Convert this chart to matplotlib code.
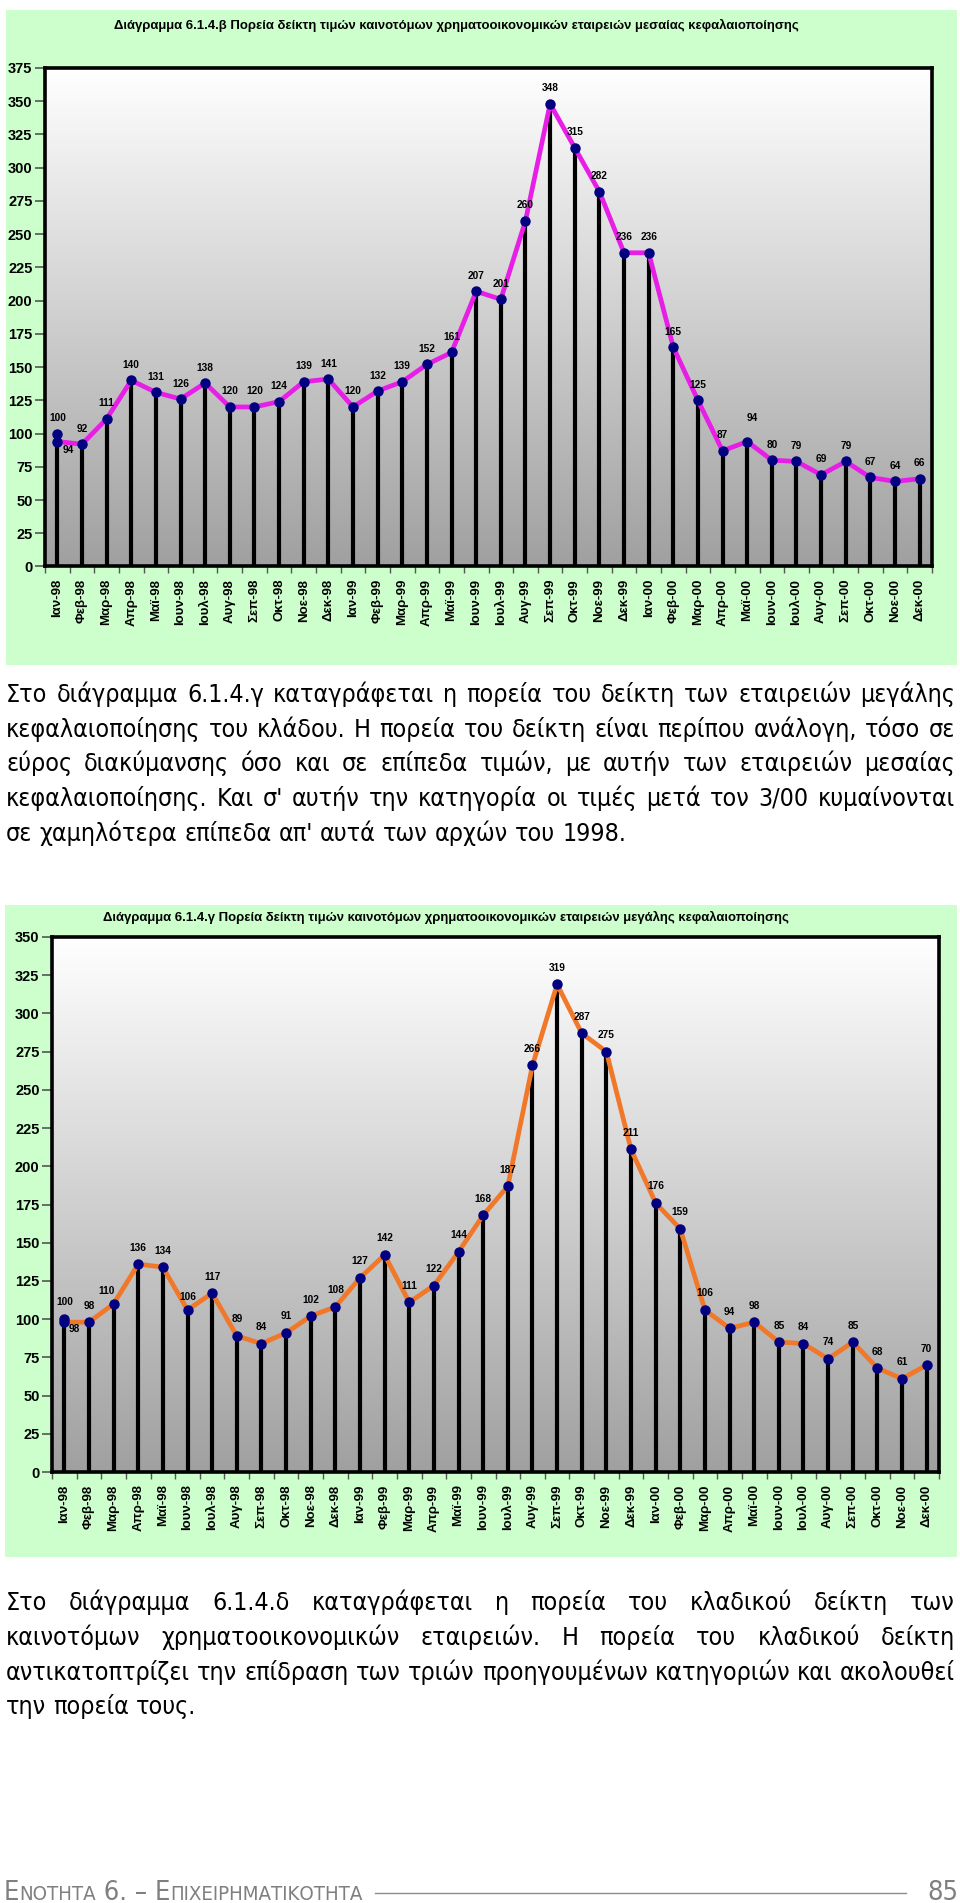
import numpy as np
import matplotlib
matplotlib.use('Agg')
import matplotlib.pyplot as plt
from matplotlib import font_manager as fm
from matplotlib.patches import Rectangle
from matplotlib.lines import Line2D
from matplotlib.colors import LinearSegmentedColormap

# ---------------- data ----------------
month_names = ['Ιαν', 'Φεβ', 'Μαρ', 'Απρ', 'Μαϊ', 'Ιουν', 'Ιουλ', 'Αυγ', 'Σεπ', 'Οκτ', 'Νοε', 'Δεκ']
years = ['98', '99', '00']
month_labels = [f'{m}-{y}' for y in years for m in month_names]

medium_cap = [94, 92, 111, 140, 131, 126, 138, 120, 120, 124, 139, 141,
              120, 132, 139, 152, 161, 207, 201, 260, 348, 315, 282, 236,
              236, 165, 125, 87, 94, 80, 79, 69, 79, 67, 64, 66]
medium_base = 100

large_cap = [98, 98, 110, 136, 134, 106, 117, 89, 84, 91, 102, 108,
             127, 142, 111, 122, 144, 168, 187, 266, 319, 287, 275, 211,
             176, 159, 106, 94, 98, 85, 84, 74, 85, 68, 61, 70]
large_base = 100

title1 = 'Διάγραμμα 6.1.4.β Πορεία δείκτη τιμών καινοτόμων χρηματοοικονομικών εταιρειών μεσαίας κεφαλαιοποίησης'
title2 = 'Διάγραμμα 6.1.4.γ Πορεία δείκτη τιμών καινοτόμων χρηματοοικονομικών εταιρειών μεγάλης κεφαλαιοποίησης'

para1 = ['Στο διάγραμμα 6.1.4.γ καταγράφεται η πορεία του δείκτη των εταιρειών μεγάλης',
         'κεφαλαιοποίησης του κλάδου. Η πορεία του δείκτη είναι περίπου ανάλογη, τόσο σε',
         'εύρος διακύμανσης όσο και σε επίπεδα τιμών, με αυτήν των εταιρειών μεσαίας',
         "κεφαλαιοποίησης. Και σ' αυτήν την κατηγορία οι τιμές μετά τον 3/00 κυμαίνονται",
         "σε χαμηλότερα επίπεδα απ' αυτά των αρχών του 1998."]
para2 = ['Στο διάγραμμα 6.1.4.δ καταγράφεται η πορεία του κλαδικού δείκτη των',
         'καινοτόμων χρηματοοικονομικών εταιρειών. Η πορεία του κλαδικού δείκτη',
         'αντικατοπτρίζει την επίδραση των τριών προηγουμένων κατηγοριών και ακολουθεί',
         'την πορεία τους.']

# ---------------- setup ----------------
W, H = 960, 1903
DPI = 100


def has_font(name):
    try:
        fm.findfont(fm.FontProperties(family=name), fallback_to_default=False)
        return True
    except Exception:
        return False


if has_font('Liberation Sans Narrow'):
    NARROW = dict(family=['Liberation Sans Narrow', 'DejaVu Sans'])
else:
    NARROW = dict(family=['Liberation Sans', 'DejaVu Sans'])
ARIAL = ['Liberation Sans', 'DejaVu Sans']

# condensed DejaVu (Verdana-like, but narrower) for the body text if present
_cond = fm.findfont(fm.FontProperties(family='DejaVu Sans', stretch='condensed'))
if 'Condensed' in _cond:
    BODY = dict(family=['DejaVu Sans'], stretch='condensed')
else:
    BODY = dict(family=['DejaVu Sans'])

fig = plt.figure(figsize=(W / DPI, H / DPI), dpi=DPI)
fig.patch.set_facecolor('white')
renderer = fig.canvas.get_renderer()


def fx(x):
    return x / W


def fy(y):
    return 1 - y / H


def text_width(s, **kw):
    t = fig.text(0, 0, s, **kw)
    w = t.get_window_extent(renderer).width
    t.remove()
    return w


def fit_size(s, target, base=10.0, **kw):
    return base * target / text_width(s, fontsize=base, **kw)


def px_axes(left, top, right, bottom):
    return fig.add_axes([left / W, 1 - bottom / H, (right - left) / W, (bottom - top) / H])


GREEN = '#CCFFCC'
grad = np.linspace(0, 1, 256).reshape(-1, 1)
gcmap = LinearSegmentedColormap.from_list('g', ['#A0A0A0', '#FFFFFF'])


def draw_chart(rect, values, base_val, ymax, line_color, nudges, default_dy, base_dy):
    ax = px_axes(*rect)
    n = len(values)
    x = np.arange(n)
    ax.imshow(grad, aspect='auto', cmap=gcmap, origin='lower',
              extent=[-0.5, n - 0.5, 0, ymax], zorder=0)
    tops = np.array(values, dtype=float)
    tops[0] = max(tops[0], base_val)
    ax.vlines(x, 0, tops, color='black', lw=3.0, zorder=2)
    ax.plot(x, values, color=line_color, lw=3.4, zorder=3, solid_joinstyle='round')
    ax.plot(x, values, 'o', ms=6.5, mfc='#000080', mec='#000080', zorder=4)
    ax.plot([0], [base_val], 'o', ms=6.5, mfc='#000080', mec='#000080', zorder=4)
    for i, v in enumerate(values):
        dx, dy = nudges.get(i, (0, default_dy))
        ax.annotate(str(v), (i, v), xytext=(dx, dy), textcoords='offset pixels',
                    ha='center', va='center', fontsize=7.3, fontweight='bold',
                    family=ARIAL, zorder=5)
    ax.annotate(str(base_val), (0, base_val), xytext=(0, base_dy), textcoords='offset pixels',
                ha='center', va='center', fontsize=7.3, fontweight='bold', family=ARIAL, zorder=5)
    ax.set_xlim(-0.5, n - 0.5)
    ax.set_ylim(0, ymax)
    yt = np.arange(0, ymax + 1, 25)
    ax.set_yticks(yt)
    ax.set_yticklabels([str(int(v)) for v in yt], fontsize=10.5, fontweight='bold', **NARROW)
    ax.set_xticks(x)
    ax.set_xticklabels(month_labels, rotation=90, fontsize=9.5, fontweight='bold', family=ARIAL)
    ax.set_xticks(np.arange(-0.5, n), minor=True)
    ax.tick_params(axis='x', which='major', length=0, pad=9)
    ax.tick_params(axis='x', which='minor', length=5, width=1, direction='out', color='#555555')
    ax.tick_params(axis='y', length=7, width=1.2, pad=2, color='#555555')
    for sp in ax.spines.values():
        sp.set_linewidth(2.6)
        sp.set_color('black')
    return ax


# ---------------- chart 1 ----------------
fig.add_artist(Rectangle((fx(6), fy(665)), (957 - 6) / W, (665 - 10) / H,
                         transform=fig.transFigure, facecolor=GREEN, edgecolor='none', zorder=0))
fs_t1 = fit_size(title1, 686, fontweight='bold', **NARROW)
fig.text(fx(456), fy(25), title1, ha='center', va='center', fontsize=fs_t1,
         fontweight='bold', **NARROW)
draw_chart((45, 68, 932, 566.5), medium_cap, medium_base, 375, '#E61EE6',
           {0: (11, -8), 28: (5, 24)}, 15.5, 16)

# ---------------- paragraph 1 ----------------
fs_body = fit_size(para1[-1], 622, base=20, **BODY)


def draw_paragraph(lines, baselines, x0, x1, fs):
    props = dict(fontsize=fs, color='black', **BODY)
    sp = text_width('a a', **props) - text_width('aa', **props)
    for k, (line, yb) in enumerate(zip(lines, baselines)):
        words = line.split(' ')
        widths = [text_width(w, **props) for w in words]
        last = (k == len(lines) - 1)
        gap = sp if (last or len(words) < 2) else (x1 - x0 - sum(widths)) / (len(words) - 1)
        xx = x0
        for w, wd in zip(words, widths):
            fig.text(fx(xx), fy(yb), w, ha='left', va='baseline', **props)
            xx += wd + gap


draw_paragraph(para1, [702, 737, 771, 806, 841], 6, 955, fs_body)

# ---------------- chart 2 ----------------
fig.add_artist(Rectangle((fx(5), fy(1557)), (957 - 5) / W, (1557 - 905) / H,
                         transform=fig.transFigure, facecolor=GREEN, edgecolor='none', zorder=0))
fs_t2 = fit_size(title2, 687, fontweight='bold', family=ARIAL)
fig.text(fx(103), fy(917), title2, ha='left', va='center', fontsize=fs_t2,
         fontweight='bold', family=ARIAL)
draw_chart((52, 937, 939, 1472), large_cap, large_base, 350, '#F07828',
           {0: (10, -7), 2: (-7, 13), 5: (0, 13)}, 16.5, 17)

# ---------------- paragraph 2 ----------------
draw_paragraph(para2, [1610, 1645, 1680, 1714], 6, 955, fs_body)

# ---------------- footer ----------------
segments = [('Ε', 'big'), ('ΝΟΤΗΤΑ', 'small'), (' 6. – ', 'big'), ('Ε', 'big'),
            ('ΠΙΧΕΙΡΗΜΑΤΙΚΟΤΗΤΑ', 'small')]
base_big, base_small = 16.0, 12.0
tot = sum(text_width(s, fontsize=(base_big if k == 'big' else base_small), **BODY)
          for s, k in segments)
scale = 361 / tot
xx = 4
for s, k in segments:
    fsz = (base_big if k == 'big' else base_small) * scale
    fig.text(fx(xx), fy(1900), s, ha='left', va='baseline', fontsize=fsz, color='#7F7F7F', **BODY)
    xx += text_width(s, fontsize=fsz, **BODY)
fig.add_artist(Line2D([fx(375), fx(906)], [fy(1893), fy(1893)], transform=fig.transFigure,
                      color='#8C8C8C', lw=1.0))
fig.text(fx(958), fy(1900), '85', ha='right', va='baseline', fontsize=base_big * scale,
         color='#7F7F7F', **BODY)

fig.savefig('out.png', dpi=DPI, facecolor='white')
